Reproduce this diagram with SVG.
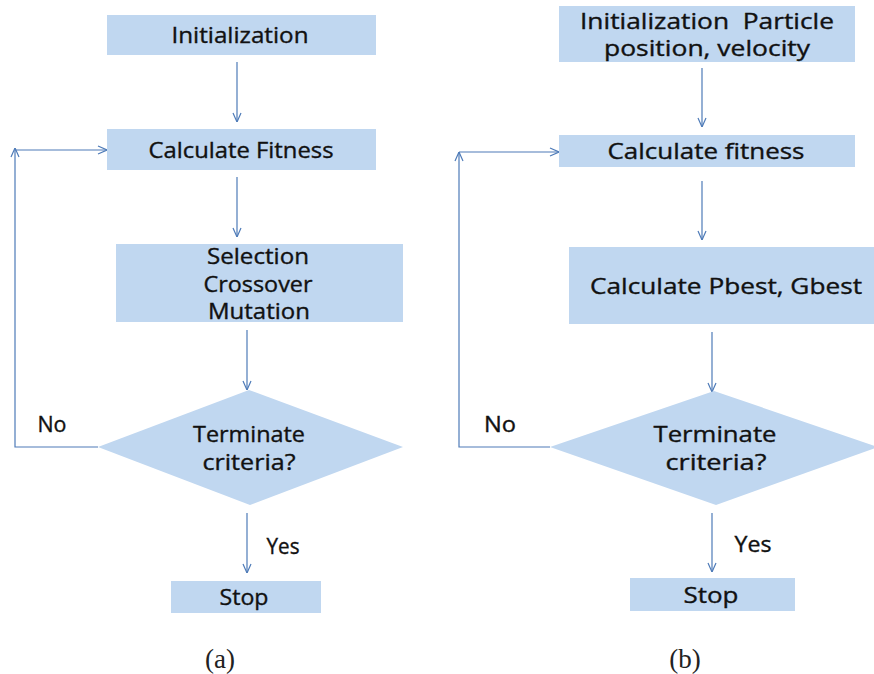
<svg xmlns="http://www.w3.org/2000/svg" width="874" height="674" viewBox="0 0 874 674">
<defs>
<style>
.box{fill:#c0d7f0;}
.ln{fill:none;stroke:#4e7bb8;stroke-width:1.2;}
.t{font-family:"Open Sans","Liberation Sans",sans-serif;font-size:21px;fill:#111;stroke:#111;stroke-width:0.35;text-anchor:middle;dominant-baseline:central;}
.cap{font-family:"Liberation Serif",serif;font-size:27px;fill:#222;text-anchor:middle;dominant-baseline:central;}
</style>
<marker id="ah" viewBox="0 0 10 10" refX="10" refY="5" markerWidth="10" markerHeight="10" markerUnits="userSpaceOnUse" orient="auto">
<path d="M1,1 L10,5 L1,9" fill="none" stroke="#4e7bb8" stroke-width="1.2"/>
</marker>
</defs>
<rect width="874" height="674" fill="#ffffff"/>
<g id="connectors">
<line class="ln" x1="237" y1="62" x2="237" y2="122" marker-end="url(#ah)"/>
<line class="ln" x1="237" y1="177" x2="237" y2="237" marker-end="url(#ah)"/>
<line class="ln" x1="247" y1="330" x2="247" y2="390" marker-end="url(#ah)"/>
<line class="ln" x1="247" y1="513" x2="247" y2="573" marker-end="url(#ah)"/>
<polyline class="ln" points="98,447 15,447 15,148" marker-end="url(#ah)"/>
<line class="ln" x1="15" y1="150" x2="107" y2="150" marker-end="url(#ah)"/>
<line class="ln" x1="702" y1="68" x2="702" y2="127" marker-end="url(#ah)"/>
<line class="ln" x1="702" y1="181" x2="702" y2="240" marker-end="url(#ah)"/>
<line class="ln" x1="712" y1="332" x2="712" y2="392" marker-end="url(#ah)"/>
<line class="ln" x1="712" y1="513" x2="712" y2="572" marker-end="url(#ah)"/>
<polyline class="ln" points="550,447 459,447 459,152" marker-end="url(#ah)"/>
<line class="ln" x1="459" y1="152" x2="559" y2="152" marker-end="url(#ah)"/>
<text class="t" x="52" y="424" textLength="29" lengthAdjust="spacingAndGlyphs">No</text>
<text class="t" x="283" y="546" textLength="33" lengthAdjust="spacingAndGlyphs">Yes</text>
<text class="t" x="500" y="424" textLength="32" lengthAdjust="spacingAndGlyphs">No</text>
<text class="t" x="753" y="544" textLength="37" lengthAdjust="spacingAndGlyphs">Yes</text>
</g>
<g id="a-init"><rect class="box" x="107" y="15" width="269" height="40"/><text class="t" x="240" y="35" textLength="137" lengthAdjust="spacingAndGlyphs">Initialization</text></g>
<g id="a-fitness"><rect class="box" x="107" y="129" width="269" height="41"/><text class="t" x="241" y="150" textLength="185" lengthAdjust="spacingAndGlyphs">Calculate Fitness</text></g>
<g id="a-ops"><rect class="box" x="116" y="244" width="287" height="78"/><text class="t" x="258" y="256" textLength="102" lengthAdjust="spacingAndGlyphs">Selection</text><text class="t" x="258" y="284" textLength="109" lengthAdjust="spacingAndGlyphs">Crossover</text><text class="t" x="259" y="311" textLength="102" lengthAdjust="spacingAndGlyphs">Mutation</text></g>
<g id="a-term"><polygon class="box" points="98,447 249,390 403,447 250,505"/><text class="t" x="249" y="434" textLength="112" lengthAdjust="spacingAndGlyphs">Terminate</text><text class="t" x="249" y="462" textLength="93" lengthAdjust="spacingAndGlyphs">criteria?</text></g>
<g id="a-stop"><rect class="box" x="171" y="581" width="150" height="32"/><text class="t" x="244" y="597" textLength="49" lengthAdjust="spacingAndGlyphs">Stop</text></g>
<g id="b-init"><rect class="box" x="559" y="6" width="296" height="56"/><text class="t" x="707" y="21" xml:space="preserve" textLength="254" lengthAdjust="spacingAndGlyphs">Initialization  Particle</text><text class="t" x="707" y="48" textLength="206" lengthAdjust="spacingAndGlyphs">position, velocity</text></g>
<g id="b-fitness"><rect class="box" x="559" y="135" width="296" height="32"/><text class="t" x="706" y="151" textLength="197" lengthAdjust="spacingAndGlyphs">Calculate fitness</text></g>
<g id="b-best"><rect class="box" x="569" y="247" width="310" height="77"/><text class="t" x="726" y="286" textLength="272" lengthAdjust="spacingAndGlyphs">Calculate Pbest, Gbest</text></g>
<g id="b-term"><polygon class="box" points="550,447 714,391 878,447 716,505"/><text class="t" x="715" y="434" textLength="123" lengthAdjust="spacingAndGlyphs">Terminate</text><text class="t" x="716" y="462" textLength="101" lengthAdjust="spacingAndGlyphs">criteria?</text></g>
<g id="b-stop"><rect class="box" x="630" y="578" width="165" height="33"/><text class="t" x="711" y="595" textLength="55" lengthAdjust="spacingAndGlyphs">Stop</text></g>
<text class="cap" x="220" y="659">(a)</text>
<text class="cap" x="685" y="659">(b)</text>
</svg>
